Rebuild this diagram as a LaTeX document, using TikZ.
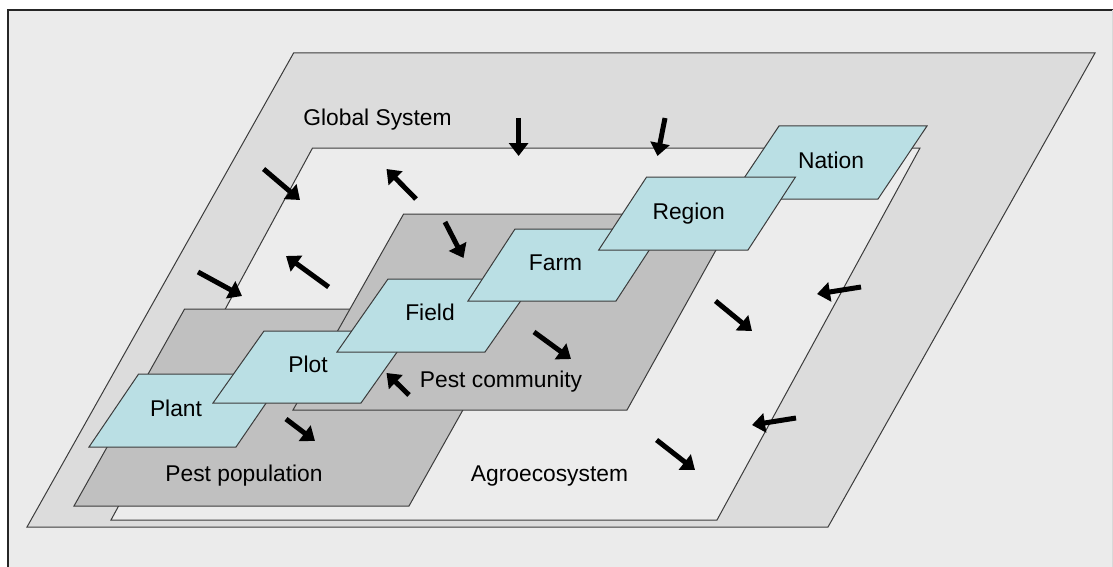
\documentclass[tikz,border=0pt]{standalone}
\usepackage{fontspec}
\setmainfont{Liberation Sans}
\usetikzlibrary{arrows.meta}
\definecolor{pagebg}{RGB}{235,235,235}
\definecolor{globalfill}{RGB}{220,220,220}
\definecolor{agrofill}{RGB}{236,236,236}
\definecolor{pestfill}{RGB}{192,192,192}
\definecolor{tilefill}{RGB}{186,223,228}
\definecolor{edge}{RGB}{60,60,60}
\tikzset{
  plane/.style={draw=edge, line width=1pt, line join=miter},
  tile/.style={plane, fill=tilefill},
  lbl/.style={anchor=base, inner sep=0pt, font=\fontsize{22.8}{24}\selectfont, text=black},
  flow/.style={line width=5pt, -{Triangle[length=13pt,width=19pt]}, black}
}
\begin{document}
\begin{tikzpicture}[x=1pt,y=-1pt]
\useasboundingbox (0,0) rectangle (1113,567);
\fill[white] (0,0) rectangle (1113,567);
% slide panel
\fill[pagebg] (8,10) rectangle (1113,567);
\draw[line width=1.6pt, black!85] (8,567) -- (8,10) -- (1113,10);
\draw[line width=0.8pt, black!15] (1112,10) -- (1112,567);

% nested system planes
\draw[plane, fill=globalfill] (293.6,53) -- (1095,53) -- (828,527) -- (27,527) -- cycle;
\draw[plane, fill=agrofill] (312.5,148) -- (920,148) -- (717,520) -- (111,520) -- cycle;
\draw[plane, fill=pestfill] (184.6,309) -- (519.6,309) -- (409,506) -- (74,506) -- cycle;
\draw[plane, fill=pestfill] (403.6,214) -- (736,214) -- (627,410) -- (293,410) -- cycle;

% scale tiles, lower ones drawn first
\draw[tile] (138.6,374) -- (286,374) -- (236,447) -- (89,447) -- cycle;
\draw[tile] (264,331) -- (412,331) -- (361,403) -- (213,403) -- cycle;
\draw[tile] (388,279) -- (536,279) -- (485,352) -- (337,352) -- cycle;
\draw[tile] (515,229) -- (663,229) -- (616,301) -- (468,301) -- cycle;
\draw[tile] (779,126) -- (927,126) -- (878,199) -- (730,199) -- cycle;
\draw[tile] (646.6,177) -- (795.5,177) -- (748,250) -- (598.7,250) -- cycle;

% labels
\node[lbl] (global) at (377.5,125) {Global System};
\node[lbl] (nation) at (831,168) {Nation};
\node[lbl] (region) at (688.7,219) {Region};
\node[lbl] (farm) at (555.5,270) {Farm};
\node[lbl] (field) at (430,320.5) {Field};
\node[lbl] (plot) at (308,372) {Plot};
\node[lbl] (plant) at (176,416) {Plant};
\node[lbl] (pestcom) at (501,387) {Pest community};
\node[lbl] (pestpop) at (244,481) {Pest population};
\node[lbl] (agro) at (549.5,481) {Agroecosystem};

% interaction arrows
\draw[flow] (518.6,118) -- (518.6,156);
\draw[flow] (665,118) -- (657.5,156);
\draw[flow] (263.6,169) -- (300,200);
\draw[flow] (416,199) -- (386.5,169);
\draw[flow] (445,222) -- (463.5,258);
\draw[flow] (328.6,287) -- (286,256);
\draw[flow] (198,272) -- (242,296);
\draw[flow] (286,419) -- (315,441);
\draw[flow] (409,395) -- (386.5,373);
\draw[flow] (534,332) -- (571,359);
\draw[flow] (715.5,301) -- (752,331);
\draw[flow] (861,287) -- (817,294);
\draw[flow] (796,418) -- (752,425);
\draw[flow] (656.6,440) -- (695,470);
\end{tikzpicture}
\end{document}
